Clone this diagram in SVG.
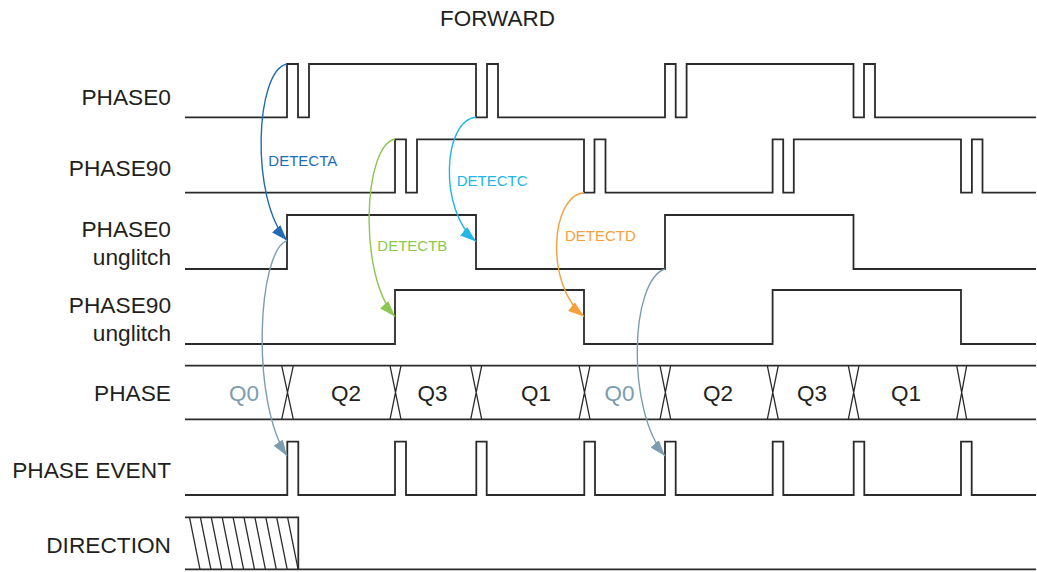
<svg xmlns="http://www.w3.org/2000/svg" width="1037" height="572" viewBox="0 0 1037 572">
<style>
.bg{fill:#ffffff}
.wave{fill:none;stroke:#2b2b2b;stroke-width:1.8;stroke-linejoin:miter}
.thin{fill:none;stroke:#2b2b2b;stroke-width:1.3}
.lbl{font-family:"Liberation Sans",Arial,sans-serif;font-size:22.7px;fill:#231f20;text-anchor:end}
.q{font-family:"Liberation Sans",Arial,sans-serif;font-size:22.5px;fill:#231f20;text-anchor:middle}
.q0{fill:#7b9daf}
.det{font-family:"Liberation Sans",Arial,sans-serif;font-size:15px}
.arr{fill:none;stroke-width:1.4}
</style>
<defs>
<marker id="mA" viewBox="0 0 16 11" markerWidth="16" markerHeight="11" refX="16" refY="5.5" orient="auto" markerUnits="userSpaceOnUse"><path d="M0,0 L16,5.5 L0,11 z" fill="#1f6bb5"/></marker>
<marker id="mB" viewBox="0 0 16 11" markerWidth="16" markerHeight="11" refX="16" refY="5.5" orient="auto" markerUnits="userSpaceOnUse"><path d="M0,0 L16,5.5 L0,11 z" fill="#8cc751"/></marker>
<marker id="mC" viewBox="0 0 16 11" markerWidth="16" markerHeight="11" refX="16" refY="5.5" orient="auto" markerUnits="userSpaceOnUse"><path d="M0,0 L16,5.5 L0,11 z" fill="#22b5e6"/></marker>
<marker id="mD" viewBox="0 0 16 11" markerWidth="16" markerHeight="11" refX="16" refY="5.5" orient="auto" markerUnits="userSpaceOnUse"><path d="M0,0 L16,5.5 L0,11 z" fill="#f6a03d"/></marker>
<marker id="mG" viewBox="0 0 16 11" markerWidth="16" markerHeight="11" refX="16" refY="5.5" orient="auto" markerUnits="userSpaceOnUse"><path d="M0,0 L16,5.5 L0,11 z" fill="#7b9daf"/></marker>
</defs>
<rect class="bg" x="0" y="0" width="1037" height="572"/>

<text class="q" x="497.5" y="26">FORWARD</text>

<g id="phase0">
<text class="lbl" x="171" y="105">PHASE0</text>
<path class="wave" d="M185,117.3 H287 V64 H298 V117.3 H309 V64 H476 V117.3 H487 V64 H498 V117.3 H665 V64 H675.7 V117.3 H686.6 V64 H853.5 V117.3 H864 V64 H875 V117.3 H1036"/>
</g>

<g id="phase90">
<text class="lbl" x="171" y="176">PHASE90</text>
<path class="wave" d="M185,192.7 H395 V139.3 H406 V192.7 H417 V139.3 H584 V192.7 H594.5 V139.3 H605.5 V192.7 H772.6 V139.3 H783.2 V192.7 H793.8 V139.3 H961 V192.7 H971.9 V139.3 H982.5 V192.7 H1036"/>
</g>

<g id="phase0-unglitch">
<text class="lbl" x="171" y="236.7">PHASE0</text>
<text class="lbl" x="171" y="265">unglitch</text>
<path class="wave" d="M185,269 H287 V215 H476 V269 H665 V215 H853.5 V269 H1036"/>
</g>

<g id="phase90-unglitch">
<text class="lbl" x="171" y="312.7">PHASE90</text>
<text class="lbl" x="171" y="340.7">unglitch</text>
<path class="wave" d="M185,344 H395 V290 H584 V344 H772.6 V290 H961 V344 H1036"/>
</g>

<g id="phase">
<text class="lbl" x="171" y="401">PHASE</text>
<path class="wave" d="M185,365.7 H1036 M185,419.3 H1036"/>
<path class="thin" d="M281.7,365.7 L293.3,419.3 M293.3,365.7 L281.7,419.3 M390,365.7 L401,419.3 M401,365.7 L390,419.3 M470.7,365.7 L481.7,419.3 M481.7,365.7 L470.7,419.3 M579,365.7 L590,419.3 M590,365.7 L579,419.3 M660,365.7 L670.7,419.3 M670.7,365.7 L660,419.3 M767.3,365.7 L778.3,419.3 M778.3,365.7 L767.3,419.3 M848.3,365.7 L859,419.3 M859,365.7 L848.3,419.3 M956.7,365.7 L966.7,419.3 M966.7,365.7 L956.7,419.3"/>
<text class="q q0" x="244" y="401">Q0</text>
<text class="q" x="346" y="401">Q2</text>
<text class="q" x="432.5" y="401">Q3</text>
<text class="q" x="536" y="401">Q1</text>
<text class="q q0" x="619.5" y="401">Q0</text>
<text class="q" x="718" y="401">Q2</text>
<text class="q" x="812" y="401">Q3</text>
<text class="q" x="906" y="401">Q1</text>
</g>

<g id="phase-event">
<text class="lbl" x="171" y="478.3">PHASE EVENT</text>
<path class="wave" d="M185,495 H287.3 V441.7 H298.3 V495 H395 V441.7 H406 V495 H476.3 V441.7 H486.7 V495 H584.3 V441.7 H595 V495 H665 V441.7 H675.7 V495 H772.7 V441.7 H783.3 V495 H853.7 V441.7 H864.3 V495 H961 V441.7 H971.7 V495 H1036"/>
</g>

<g id="direction">
<text class="lbl" x="171" y="552.7">DIRECTION</text>
<path class="wave" d="M185,517.3 H298.3 V569.3 M185,569.3 H1036"/>
<path class="thin" d="M189.5,517.3 L200,569.3 M200.4,517.3 L210.9,569.3 M211.3,517.3 L221.8,569.3 M222.2,517.3 L232.7,569.3 M233.1,517.3 L243.6,569.3 M244,517.3 L254.5,569.3 M254.9,517.3 L265.4,569.3 M265.8,517.3 L276.3,569.3 M276.7,517.3 L287.2,569.3 M287.6,517.3 L298.1,569.3"/>
</g>

<g id="connectors">
<path class="arr" stroke="#1f6bb5" marker-end="url(#mA)" d="M287,64 C255,70 250,200 287,240.5"/>
<path class="arr" stroke="#8cc751" marker-end="url(#mB)" d="M395,139.3 C363,145 358,276 395,316.5"/>
<path class="arr" stroke="#22b5e6" marker-end="url(#mC)" d="M476,117.3 C443,120 438,210 476,241.5"/>
<path class="arr" stroke="#f6a03d" marker-end="url(#mD)" d="M584,192.7 C550,196 545,286 584,316.5"/>
<path class="arr" stroke="#7b9daf" marker-end="url(#mG)" d="M287,240.7 C258,250 250,400 287,456"/>
<path class="arr" stroke="#7b9daf" marker-end="url(#mG)" d="M665,269 C630,280 626,410 665,456"/>
<text class="det" fill="#1f6bb5" x="268.3" y="165.7">DETECTA</text>
<text class="det" fill="#8cc751" x="377.3" y="250.7">DETECTB</text>
<text class="det" fill="#22b5e6" x="456.7" y="186">DETECTC</text>
<text class="det" fill="#f6a03d" x="565" y="240.7">DETECTD</text>
</g>
</svg>
